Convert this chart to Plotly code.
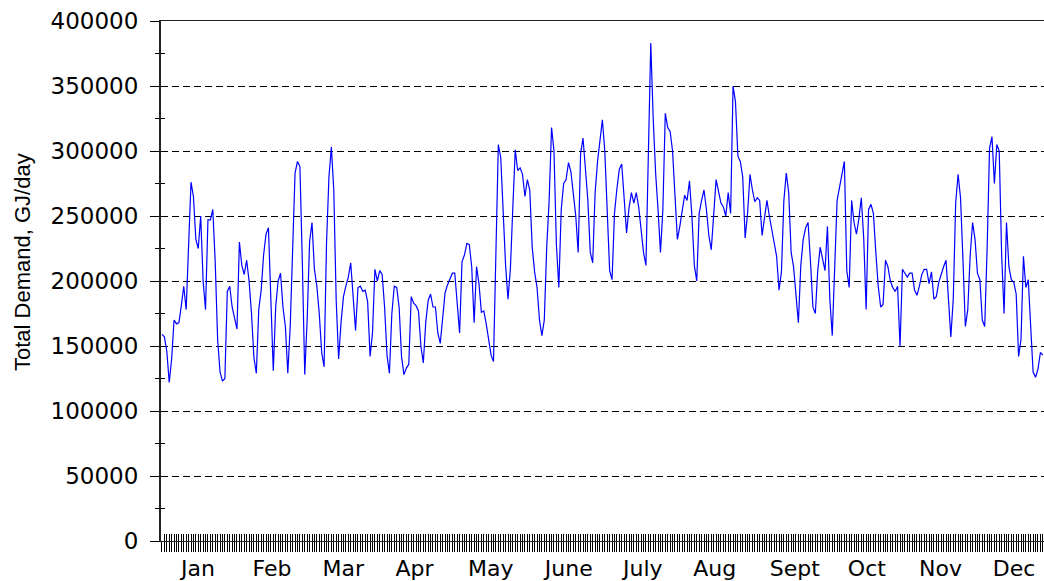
import plotly.graph_objects as go

# Daily total demand (GJ/day), one list per month
jan = [159000, 157000, 146000, 122000, 140000, 170000, 167000, 168000, 181000, 196000,
       178000, 227000, 276000, 265000, 232000, 225000, 250000, 200000, 178000, 247000,
       247000, 255000, 215000, 155000, 130000, 123000, 125000, 192000, 196000, 180000,
       170000]
feb = [163000, 230000, 212000, 205000, 216000, 200000, 175000, 141000, 129000, 178000,
       193000, 220000, 236000, 241000, 180000, 131000, 180000, 200000, 206000, 180000,
       165000, 129000, 165000, 230000, 283000, 292000, 288000, 215000]
mar = [128000, 170000, 230000, 245000, 209000, 196000, 175000, 145000, 134000, 229000,
       280000, 303000, 270000, 185000, 140000, 168000, 188000, 196000, 203000, 214000,
       188000, 162000, 195000, 196000, 192000, 193000, 184000, 142000, 160000, 209000,
       200000]
apr = [208000, 205000, 180000, 143000, 129000, 175000, 196000, 195000, 180000, 142000,
       128000, 133000, 136000, 188000, 183000, 181000, 177000, 150000, 137000, 168000,
       185000, 190000, 180000, 180000, 160000, 152000, 175000, 191000, 197000, 202000]
may = [206000, 206000, 182000, 160000, 215000, 220000, 229000, 228000, 211000, 168000,
       211000, 198000, 176000, 177000, 167000, 155000, 143000, 138000, 232000, 305000,
       295000, 250000, 212000, 186000, 210000, 257000, 301000, 285000, 287000, 282000,
       265000]
jun = [278000, 270000, 226000, 207000, 195000, 170000, 158000, 170000, 226000, 262000,
       318000, 300000, 228000, 195000, 255000, 275000, 278000, 291000, 284000, 268000,
       250000, 222000, 298000, 310000, 288000, 262000, 222000, 214000, 268000, 292000]
jul = [308000, 324000, 300000, 256000, 208000, 201000, 252000, 271000, 286000, 290000,
       265000, 237000, 256000, 268000, 260000, 268000, 257000, 240000, 222000, 212000,
       305000, 383000, 325000, 283000, 255000, 222000, 255000, 329000, 318000, 315000,
       300000]
aug = [262000, 232000, 242000, 256000, 266000, 262000, 277000, 250000, 212000, 200000,
       252000, 262000, 270000, 255000, 235000, 224000, 252000, 278000, 269000, 260000,
       257000, 250000, 268000, 252000, 350000, 338000, 296000, 292000, 280000, 233000,
       252000]
sep = [282000, 270000, 261000, 264000, 262000, 235000, 250000, 262000, 250000, 240000,
       231000, 219000, 193000, 207000, 262000, 283000, 268000, 222000, 211000, 190000,
       168000, 212000, 232000, 241000, 245000, 215000, 180000, 175000, 208000, 226000]
oct_ = [218000, 208000, 242000, 186000, 158000, 205000, 262000, 272000, 282000, 292000,
        208000, 195000, 262000, 245000, 236000, 248000, 264000, 233000, 178000, 255000,
        259000, 252000, 222000, 196000, 180000, 182000, 216000, 211000, 200000, 195000,
        192000]
nov = [196000, 150000, 209000, 206000, 203000, 206000, 206000, 193000, 189000, 196000,
       205000, 209000, 209000, 198000, 207000, 186000, 188000, 199000, 206000, 211000,
       216000, 190000, 157000, 186000, 260000, 282000, 264000, 217000, 165000, 178000]
dec = [220000, 245000, 232000, 206000, 201000, 170000, 165000, 225000, 302000, 311000,
       275000, 305000, 300000, 220000, 175000, 245000, 211000, 201000, 199000, 190000,
       142000, 155000, 219000, 195000, 201000, 165000, 130000, 126000, 132000, 145000,
       143000]

month_labels = ["Jan", "Feb", "Mar", "Apr", "May", "June", "July", "Aug",
                "Sept", "Oct", "Nov", "Dec"]
# day-of-year where each month label sits on the reference axis
month_label_pos = [14.9, 45.5, 74.9, 104.4, 135.9, 168.1, 198.7, 228.4,
                   261.5, 291.3, 321.7, 352.1]
month_series = [jan, feb, mar, apr, may, jun, jul, aug, sep, oct_, nov, dec]

demand = [v for m in month_series for v in m]
days = list(range(len(demand)))

XR = [-0.4, 364.5]
YR = [0, 400000]

fig = go.Figure()
fig.add_trace(go.Scatter(x=days, y=demand, mode="lines",
                         line=dict(color="#0000ff", width=1.2),
                         hoverinfo="skip"))
# empty helper trace so the overlay axes (crossing tick halves) get drawn
fig.add_trace(go.Scatter(x=[], y=[], xaxis="x2", yaxis="y2",
                         mode="lines", hoverinfo="skip"))

fig.update_layout(
    width=1044, height=581,
    margin=dict(l=161, r=0, t=21, b=40, autoexpand=False),
    paper_bgcolor="white", plot_bgcolor="white",
    showlegend=False,
    xaxis=dict(
        range=XR, tickmode="array", tickvals=month_label_pos, ticktext=month_labels,
        ticks="", showline=True, linecolor="#222", linewidth=1, mirror=True,
        showgrid=False, zeroline=False, automargin=False,
        tickfont=dict(family="DejaVu Sans", size=22, color="black"),
        ticklabelstandoff=8,
        minor=dict(ticks="outside", ticklen=10, tickmode="linear", tick0=0,
                   dtick=1, tickcolor="black", tickwidth=1, showgrid=False),
    ),
    xaxis2=dict(
        range=XR, overlaying="x", anchor="y", side="bottom",
        tickmode="linear", tick0=0, dtick=1, ticks="inside", ticklen=7,
        tickcolor="black", tickwidth=1, showticklabels=False, automargin=False,
        showgrid=False, showline=False, zeroline=False,
    ),
    yaxis=dict(
        range=YR, tickmode="linear", tick0=0, dtick=50000, tickformat="d",
        ticks="outside", ticklen=9, tickcolor="black", tickwidth=1,
        showgrid=True, gridcolor="black", gridwidth=1, griddash="7px,4px",
        showline=True, linecolor="#222", linewidth=2, zeroline=False,
        automargin=False,
        tickfont=dict(family="DejaVu Sans", size=23, color="black"),
        ticklabelstandoff=7,
        minor=dict(ticks="outside", ticklen=4, tickmode="linear", tick0=0,
                   dtick=25000, tickcolor="black", tickwidth=1, showgrid=False),
    ),
    yaxis2=dict(
        range=YR, overlaying="y", anchor="x", side="left",
        tickmode="linear", tick0=0, dtick=25000, ticks="inside", ticklen=4,
        tickcolor="black", tickwidth=1, showticklabels=False, automargin=False,
        showgrid=False, showline=False, zeroline=False,
    ),
    annotations=[dict(
        text="Total Demand, GJ/day", textangle=-90, showarrow=False,
        xref="paper", yref="paper", x=0, y=(541 - 262) / 520,
        xshift=-139, xanchor="center", yanchor="middle",
        font=dict(family="Liberation Sans", size=22, color="black"),
    )],
)

# remove the page's default 8px body margin so the 1044x581 figure fills the window
fig.write_html("out.html",
               config={"displayModeBar": False},
               post_script="document.body.style.margin='0';document.body.style.overflow='hidden';")
